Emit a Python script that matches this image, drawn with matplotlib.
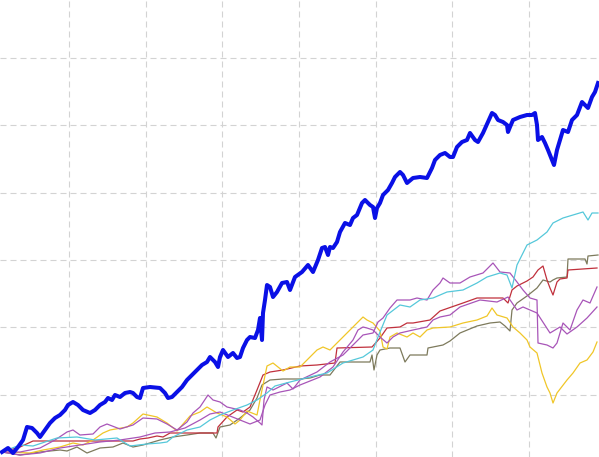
import matplotlib
matplotlib.use("Agg")
import matplotlib.pyplot as plt
import numpy as np

# trading day index / cumulative return
blue_day = [2, 8, 13, 18, 23, 27, 32, 37, 40, 45,
            50, 55, 60, 65, 68, 73, 78, 83, 90, 95,
            100, 105, 108, 112, 115, 120, 125, 130, 133, 137,
            140, 143, 150, 160, 165, 168, 172, 177, 182, 187,
            192, 197, 202, 207, 210, 215, 218, 220, 223, 228,
            233, 237, 240, 243, 247, 250, 255, 258, 260, 262,
            263, 265, 267, 270, 273, 277, 282, 287, 290, 295,
            302, 308, 313, 318, 322, 325, 328, 330, 333, 337,
            340, 345, 350, 353, 357, 362, 365, 370, 373, 375,
            377, 380, 383, 388, 392, 395, 400, 403, 407, 413,
            420, 427, 432, 435, 440, 445, 450, 453, 457, 462,
            467, 470, 475, 478, 483, 488, 492, 495, 498, 503,
            507, 508, 510, 513, 520, 527, 532, 535, 537, 538,
            542, 545, 548, 552, 554, 557, 560, 563, 568, 572,
            577, 582, 585, 588, 592, 595, 598]
blue_ret = [0.00, 0.04, -0.01, 0.05, 0.12, 0.25, 0.24, 0.19, 0.15, 0.22,
            0.29, 0.34, 0.37, 0.42, 0.47, 0.50, 0.47, 0.42, 0.39, 0.42,
            0.47, 0.50, 0.54, 0.52, 0.57, 0.55, 0.59, 0.60, 0.59, 0.55,
            0.54, 0.64, 0.65, 0.64, 0.59, 0.54, 0.55, 0.60, 0.65, 0.72,
            0.77, 0.82, 0.87, 0.90, 0.95, 0.90, 0.85, 0.95, 1.02, 0.95,
            0.99, 0.94, 0.95, 1.04, 1.12, 1.15, 1.14, 1.22, 1.34, 1.12,
            1.39, 1.52, 1.67, 1.65, 1.55, 1.60, 1.69, 1.70, 1.62, 1.75,
            1.80, 1.87, 1.80, 1.92, 2.04, 2.05, 1.97, 2.05, 2.04, 2.10,
            2.20, 2.29, 2.27, 2.34, 2.37, 2.49, 2.52, 2.47, 2.45, 2.34,
            2.44, 2.49, 2.57, 2.62, 2.69, 2.75, 2.80, 2.77, 2.69, 2.74,
            2.75, 2.74, 2.84, 2.92, 2.97, 2.99, 2.95, 2.95, 3.05, 3.10,
            3.12, 3.19, 3.12, 3.10, 3.19, 3.30, 3.39, 3.37, 3.32, 3.30,
            3.27, 3.20, 3.25, 3.32, 3.35, 3.37, 3.37, 3.39, 3.27, 3.12,
            3.15, 3.09, 3.02, 2.92, 2.87, 3.02, 3.12, 3.22, 3.20, 3.32,
            3.37, 3.50, 3.47, 3.44, 3.55, 3.60, 3.69]

cyan_day = [2, 20, 33, 57, 77, 95, 117, 130, 147, 160,
            167, 173, 187, 200, 210, 220, 233, 247, 257, 267,
            275, 290, 310, 327, 343, 363, 373, 378, 387, 400,
            410, 420, 433, 447, 463, 477, 487, 500, 507, 512,
            517, 527, 537, 547, 553, 563, 573, 583, 588, 592,
            598]
cyan_ret = [0.00, 0.07, 0.06, 0.14, 0.15, 0.12, 0.14, 0.06, 0.08, 0.09,
            0.10, 0.15, 0.22, 0.25, 0.32, 0.37, 0.42, 0.47, 0.52, 0.59,
            0.66, 0.70, 0.75, 0.79, 0.89, 0.95, 1.02, 1.15, 1.37, 1.47,
            1.45, 1.52, 1.54, 1.60, 1.62, 1.69, 1.75, 1.79, 1.77, 1.64,
            1.87, 2.07, 2.12, 2.20, 2.29, 2.34, 2.37, 2.40, 2.32, 2.39,
            2.39]

gray_day = [2, 20, 40, 60, 67, 77, 87, 100, 113, 123,
            133, 143, 160, 173, 187, 200, 213, 216, 220, 230,
            240, 250, 257, 262, 270, 283, 300, 310, 320, 330,
            340, 370, 372, 374, 377, 380, 390, 400, 405, 410,
            427, 428, 433, 443, 450, 460, 477, 490, 500, 505,
            510, 512, 517, 527, 537, 543, 550, 553, 557, 567,
            568, 585, 587, 588, 598]
gray_ret = [0.00, -0.03, 0.00, 0.02, 0.01, 0.05, -0.01, 0.04, 0.05, 0.09,
            0.05, 0.07, 0.12, 0.15, 0.17, 0.19, 0.19, 0.14, 0.25, 0.27,
            0.34, 0.42, 0.54, 0.67, 0.72, 0.73, 0.73, 0.74, 0.77, 0.77,
            0.90, 0.90, 0.97, 0.82, 0.97, 1.02, 1.04, 1.04, 0.90, 0.97,
            0.97, 1.04, 1.05, 1.07, 1.11, 1.19, 1.26, 1.29, 1.30, 1.26,
            1.21, 1.42, 1.49, 1.56, 1.64, 1.72, 1.70, 1.72, 1.74, 1.75,
            1.93, 1.93, 1.88, 1.96, 1.97]

red_day = [2, 20, 33, 67, 100, 133, 140, 148, 157, 163,
           170, 217, 218, 227, 237, 243, 250, 257, 263, 270,
           283, 300, 317, 335, 337, 372, 380, 387, 400, 407,
           413, 430, 440, 463, 477, 503, 508, 512, 517, 527,
           533, 538, 543, 547, 550, 553, 557, 560, 567, 568,
           597]
red_ret = [0.00, 0.05, 0.11, 0.11, 0.11, 0.11, 0.13, 0.14, 0.16, 0.15,
           0.19, 0.19, 0.25, 0.35, 0.42, 0.40, 0.45, 0.62, 0.77, 0.80,
           0.82, 0.86, 0.87, 0.89, 1.04, 1.05, 1.14, 1.24, 1.25, 1.29,
           1.29, 1.32, 1.41, 1.49, 1.54, 1.54, 1.49, 1.62, 1.66, 1.71,
           1.75, 1.82, 1.86, 1.72, 1.64, 1.57, 1.70, 1.73, 1.74, 1.82,
           1.84]

purple1_day = [2, 20, 40, 55, 67, 73, 80, 93, 100, 107,
               120, 133, 143, 157, 167, 177, 187, 193, 200, 208,
               213, 220, 227, 240, 247, 253, 260, 262, 264, 267,
               273, 287, 293, 300, 317, 330, 343, 353, 363, 373,
               378, 383, 390, 397, 410, 417, 427, 433, 440, 443,
               450, 460, 470, 483, 493, 500, 510, 517, 523, 530,
               537, 538, 547, 553, 557, 563, 570, 577, 583, 590,
               597]
purple1_ret = [0.00, 0.00, 0.04, 0.12, 0.20, 0.22, 0.17, 0.18, 0.25, 0.28,
               0.23, 0.27, 0.34, 0.33, 0.28, 0.22, 0.30, 0.39, 0.45, 0.57,
               0.52, 0.50, 0.45, 0.42, 0.39, 0.35, 0.29, 0.27, 0.52, 0.65,
               0.62, 0.69, 0.63, 0.72, 0.80, 0.90, 0.97, 1.07, 1.17, 1.19,
               1.30, 1.34, 1.44, 1.52, 1.52, 1.54, 1.52, 1.62, 1.69, 1.74,
               1.69, 1.69, 1.75, 1.79, 1.89, 1.80, 1.79, 1.70, 1.62, 1.54,
               1.52, 1.09, 1.07, 1.04, 1.09, 1.29, 1.22, 1.42, 1.52, 1.49,
               1.65]

purple2_day = [2, 20, 40, 60, 80, 100, 120, 140, 155, 170,
               185, 200, 210, 220, 230, 240, 250, 260, 265, 270,
               280, 290, 300, 320, 333, 343, 353, 358, 363, 367,
               373, 380, 387, 393, 400, 413, 427, 433, 440, 450,
               460, 480, 497, 508, 517, 523, 530, 537, 550, 560,
               567, 577, 587, 597]
purple2_ret = [0.00, -0.03, -0.01, 0.04, 0.07, 0.10, 0.12, 0.15, 0.19, 0.20,
               0.24, 0.32, 0.38, 0.40, 0.36, 0.32, 0.28, 0.32, 0.47, 0.57,
               0.60, 0.62, 0.67, 0.75, 0.85, 1.00, 1.12, 1.22, 1.25, 1.24,
               1.22, 1.15, 1.09, 1.15, 1.19, 1.22, 1.25, 1.32, 1.35, 1.37,
               1.45, 1.52, 1.50, 1.55, 1.42, 1.45, 1.42, 1.39, 1.19, 1.25,
               1.18, 1.25, 1.34, 1.45]

yellow_day = [2, 30, 43, 60, 73, 83, 93, 103, 110, 127,
              133, 143, 157, 167, 177, 190, 200, 207, 217, 227,
              235, 240, 247, 257, 262, 267, 273, 283, 290, 300,
              317, 323, 330, 343, 350, 357, 363, 367, 373, 380,
              383, 387, 390, 397, 407, 413, 420, 427, 433, 450,
              463, 477, 487, 492, 497, 507, 513, 520, 527, 530,
              537, 542, 547, 550, 553, 557, 567, 573, 580, 587,
              593, 597]
yellow_ret = [0.00, -0.01, 0.02, 0.05, 0.09, 0.07, 0.12, 0.19, 0.22, 0.25,
              0.29, 0.38, 0.35, 0.29, 0.21, 0.36, 0.40, 0.45, 0.39, 0.35,
              0.28, 0.32, 0.41, 0.37, 0.62, 0.86, 0.89, 0.81, 0.85, 0.85,
              1.02, 1.05, 1.02, 1.15, 1.22, 1.29, 1.35, 1.32, 1.29, 1.21,
              1.05, 1.03, 1.15, 1.19, 1.15, 1.19, 1.15, 1.22, 1.24, 1.25,
              1.29, 1.32, 1.36, 1.44, 1.37, 1.34, 1.25, 1.19, 1.12, 1.05,
              0.99, 0.79, 0.65, 0.59, 0.49, 0.59, 0.72, 0.79, 0.89, 0.92,
              1.00, 1.10]

fig = plt.figure(figsize=(5.99, 4.57), dpi=100)
ax = fig.add_axes([0, 0, 1, 1])

ax.plot(gray_day, gray_ret, color="#7d7a5c", lw=0.9)
ax.plot(red_day, red_ret, color="#c0303c", lw=0.9)
ax.plot(yellow_day, yellow_ret, color="#f0c628", lw=0.9)
ax.plot(purple2_day, purple2_ret, color="#a855b8", lw=0.9)
ax.plot(purple1_day, purple1_ret, color="#a855b8", lw=0.9)
ax.plot(cyan_day, cyan_ret, color="#55c8da", lw=0.9)
ax.plot(blue_day, blue_ret, color="#0a10e6", lw=2.9)

ax.set_xlim(0, 599)
ax.set_ylim(-0.05, 4.52)
ax.set_xticks(np.arange(69, 599, 76.7))
ax.set_yticks(np.arange(0.575, 4.52, 0.673))
ax.grid(True, color="#d3d3d3", linestyle=(0, (5.4, 3.6)), linewidth=0.8)
ax.set_axisbelow(True)
ax.tick_params(length=0, labelbottom=False, labelleft=False)
for s in ax.spines.values():
    s.set_visible(False)

fig.savefig("out.png", dpi=100)
